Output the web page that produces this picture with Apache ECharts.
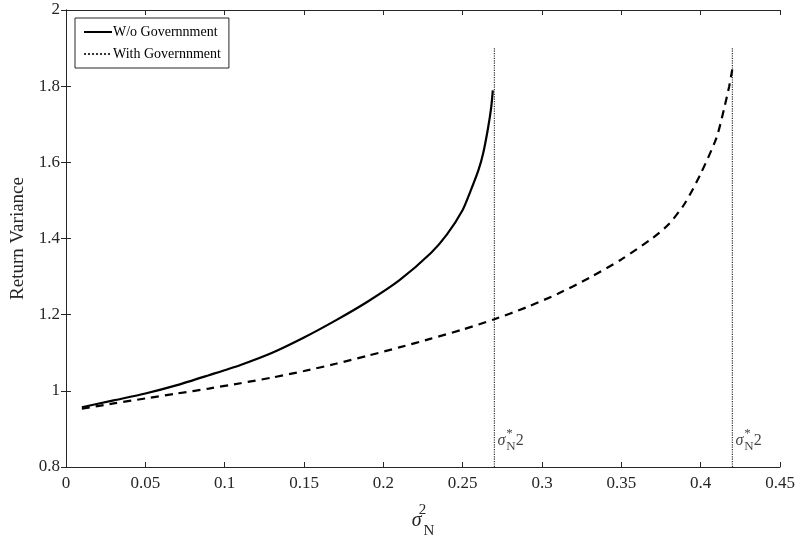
<!DOCTYPE html>
<html>
<head>
<meta charset="utf-8">
<script src="https://cdn.jsdelivr.net/npm/echarts@6/dist/echarts.min.js"></script>
<style>html,body{margin:0;padding:0;background:#fff}#c{width:799px;height:546px}</style>
</head>
<body>
<div id="c"></div>
<script>
// Solid curve (W/o Government)
const woX = [0.01, 0.03, 0.05, 0.07, 0.09, 0.11, 0.13, 0.15, 0.17, 0.19, 0.21, 0.23, 0.24, 0.25, 0.255, 0.26, 0.263, 0.266, 0.268, 0.269];
const woY = [0.957, 0.975, 0.993, 1.015, 1.041, 1.068, 1.100, 1.140, 1.185, 1.234, 1.290, 1.362, 1.410, 1.475, 1.525, 1.580, 1.625, 1.690, 1.745, 1.789];
// Dashed curve (With Government)
const wX = [0.01, 0.03, 0.05, 0.07, 0.09, 0.11, 0.13, 0.15, 0.17, 0.19, 0.21, 0.23, 0.25, 0.27, 0.29, 0.31, 0.33, 0.35, 0.37, 0.38, 0.39, 0.40, 0.41, 0.415, 0.418, 0.42];
const wY = [0.953, 0.967, 0.980, 0.993, 1.006, 1.020, 1.035, 1.052, 1.071, 1.092, 1.114, 1.137, 1.161, 1.188, 1.219, 1.255, 1.297, 1.345, 1.402, 1.438, 1.492, 1.570, 1.665, 1.745, 1.800, 1.846];
// Critical thresholds
const critX = [0.27, 0.42];
const critYRange = [0.8, 1.9];
const legendNames = ['W/o Governnment', 'With Governnment'];

const font = '"Liberation Serif","Times New Roman",serif';
const txt = '#262626';
const zip = (xs, ys) => xs.map((x, i) => [x, ys[i]]);

const annotRich = {
  s: {fontFamily: font, fontSize: 16, fontStyle: 'italic', color: '#111', lineHeight: 32, verticalAlign: 'middle'},
  sup: {fontFamily: font, fontSize: 13, color: '#111', width: 0, lineHeight: 32, verticalAlign: 'top', padding: [3, 0, 0, 1]},
  sub: {fontFamily: font, fontSize: 13, color: '#111', lineHeight: 32, verticalAlign: 'bottom', padding: [0, 0, 3, 0]},
  n: {fontFamily: font, fontSize: 16, color: '#111', lineHeight: 32, verticalAlign: 'middle'}
};

const chart = echarts.init(document.getElementById('c'), null, {renderer: 'canvas'});
chart.setOption({
  animation: false,
  backgroundColor: '#fff',
  grid: {left: 66, right: 19, top: 10, bottom: 79},
  legend: {
    data: legendNames,
    orient: 'vertical',
    left: 75, top: 18,
    itemWidth: 28, itemHeight: 14, itemGap: 8,
    padding: [7, 8, 7, 8],
    borderColor: '#262626', borderWidth: 1,
    backgroundColor: '#fff',
    itemStyle: {opacity: 0},
    textStyle: {fontFamily: font, fontSize: 14, color: '#000', padding: [0, 0, 0, -4]}
  },
  xAxis: [{
    type: 'value', min: 0, max: 0.45, interval: 0.05,
    axisLine: {lineStyle: {color: txt, width: 1}},
    axisTick: {inside: true, length: 5, lineStyle: {color: txt}},
    axisLabel: {fontFamily: font, fontSize: 17, color: txt, margin: 8},
    splitLine: {show: false},
    name: '{s|σ}{sup|2}{sub|N}',
    nameLocation: 'middle', nameGap: 36,
    nameTextStyle: {
      rich: {
        s: {fontFamily: font, fontSize: 20, fontStyle: 'italic', color: txt, lineHeight: 36, verticalAlign: 'middle'},
        sup: {fontFamily: font, fontSize: 15, color: txt, width: 0, lineHeight: 36, verticalAlign: 'top', padding: [0, 0, 0, 1]},
        sub: {fontFamily: font, fontSize: 15, color: txt, lineHeight: 36, verticalAlign: 'bottom', padding: [0, 0, 0, 1]}
      }
    }
  }, {
    type: 'value', min: 0, max: 0.45, interval: 0.05, position: 'top',
    axisLine: {lineStyle: {color: txt}},
    axisTick: {inside: true, length: 5, lineStyle: {color: txt}},
    axisLabel: {show: false}, splitLine: {show: false}
  }],
  yAxis: [{
    type: 'value', min: 0.8, max: 2, interval: 0.2,
    axisLine: {show: true, lineStyle: {color: txt, width: 1}},
    axisTick: {show: true, inside: true, length: 5, lineStyle: {color: txt}},
    axisLabel: {fontFamily: font, fontSize: 17, color: txt, margin: 6},
    splitLine: {show: false},
    name: 'Return Variance', nameLocation: 'middle', nameGap: 38,
    nameTextStyle: {fontFamily: font, fontSize: 19, color: txt}
  }, {
    type: 'value', min: 0.8, max: 2, interval: 0.2, position: 'right',
    axisLine: {show: true, lineStyle: {color: txt}},
    axisTick: {show: true, inside: true, length: 5, lineStyle: {color: txt}},
    axisLabel: {show: false}, splitLine: {show: false}
  }],
  series: [
    {
      name: legendNames[0], type: 'line', data: zip(woX, woY), symbol: 'none',
      lineStyle: {color: '#000', width: 2.2, type: 'solid'}, itemStyle: {color: '#000'},
      smooth: 0.25, z: 5
    },
    {
      name: legendNames[1], type: 'line', data: [[critX[0], critYRange[0]], [critX[0], critYRange[1]]],
      symbol: 'none', lineStyle: {color: '#333', width: 1.2, type: 'dotted'}, itemStyle: {color: '#333'}, z: 3
    },
    {
      name: 'dashed', type: 'line', data: zip(wX, wY), symbol: 'none',
      lineStyle: {color: '#000', width: 2.2, type: [8, 6]},
      smooth: 0.25, z: 5
    },
    {
      name: 'crit2', type: 'line', data: [[critX[1], critYRange[0]], [critX[1], critYRange[1]]],
      symbol: 'none', lineStyle: {color: '#333', width: 1.2, type: 'dotted'}, z: 3
    },
    {
      name: 'annot', type: 'scatter', symbolSize: 0, silent: true,
      data: critX.map(x => [x, 0.87]),
      label: {show: true, position: 'right', distance: 3, formatter: '{s|σ}{sup|*}{sub|N}{n|2}', rich: annotRich}
    }
  ]
});
</script>
</body>
</html>
